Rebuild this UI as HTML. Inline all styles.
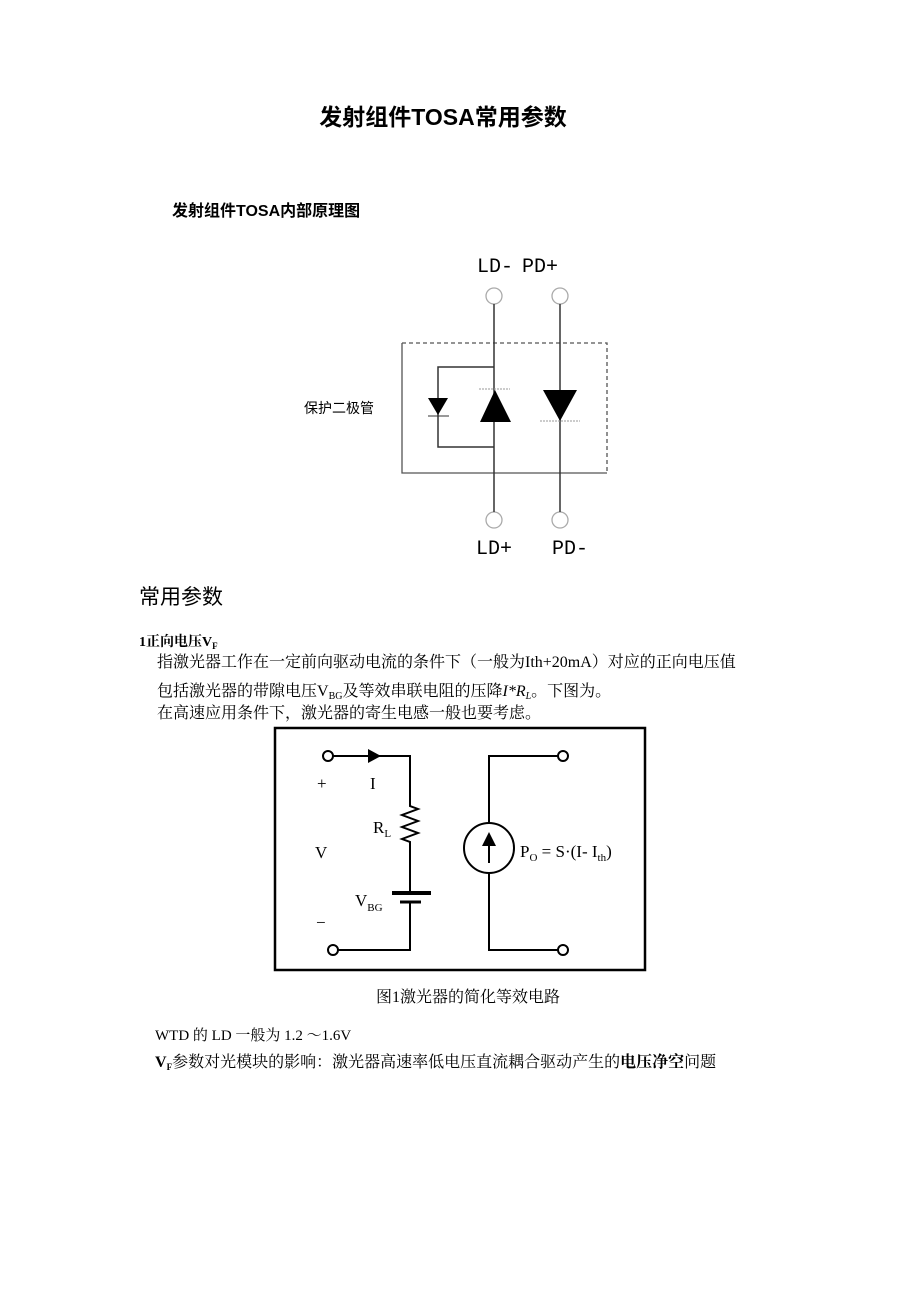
<!DOCTYPE html>
<html><head><meta charset="utf-8"><style>
html,body{margin:0;padding:0;background:#fff;}
svg{display:block;}
text{font-family:"Liberation Sans","Noto Sans CJK SC",sans-serif;fill:#000;}
.s{font-family:"Liberation Serif","Noto Serif CJK SC","Noto Sans CJK SC",serif;}
.m{font-family:"Liberation Mono","Noto Sans CJK SC",monospace;}
</style></head><body>
<svg width="920" height="1302" viewBox="0 0 920 1302" xmlns="http://www.w3.org/2000/svg">
<text x="443" y="125" font-size="23" font-weight="bold" text-anchor="middle">发射组件TOSA常用参数</text>
<text x="172" y="216" font-size="16" font-weight="bold">发射组件TOSA内部原理图</text>

<!-- TOSA diagram -->
<text x="477" y="272" font-size="20" class="m">LD-</text>
<text x="522" y="272" font-size="20" class="m">PD+</text>
<text x="476" y="554" font-size="20" class="m">LD+</text>
<text x="552" y="554" font-size="20" class="m">PD-</text>
<g stroke="#aaa" fill="none" stroke-width="1.3">
<circle cx="494" cy="296" r="8"/><circle cx="560" cy="296" r="8"/>
<circle cx="494" cy="520" r="8"/><circle cx="560" cy="520" r="8"/>
</g>
<g stroke="#555" fill="none" stroke-width="1.3">
<path d="M402 343 H607 V473" stroke-dasharray="4 3"/>
<path d="M402 343 V473 H607"/>
</g>
<g stroke="#333" stroke-width="1.5" fill="none">
<line x1="494" y1="304" x2="494" y2="512"/>
<line x1="560" y1="304" x2="560" y2="512"/>
<path d="M494 367 H438 V447 H494"/>
<line x1="428" y1="416" x2="449" y2="416" stroke-width="1"/>
</g>
<g fill="#000">
<polygon points="428,398 448,398 438,415"/>
<polygon points="480,422 511,422 495,390"/>
<polygon points="543,390 577,390 560,421"/>
</g>
<line x1="479" y1="389" x2="510" y2="389" stroke="#999" stroke-width="1" stroke-dasharray="2 1"/>
<line x1="540" y1="421" x2="580" y2="421" stroke="#999" stroke-width="1" stroke-dasharray="2 1"/>
<text x="304" y="413" font-size="14">保护二极管</text>

<text x="139" y="604" font-size="21">常用参数</text>
<text x="139" y="646" font-size="14" font-weight="bold" class="s">1正向电压V<tspan font-size="9" dy="3">F</tspan></text>
<text x="157" y="667" font-size="16" class="s">指激光器工作在一定前向驱动电流的条件下（一般为Ith+20mA）对应的正向电压值</text>
<text x="157" y="696" font-size="16" class="s">包括激光器的带隙电压V<tspan font-size="10" dy="3">BG</tspan><tspan dy="-3">及等效串联电阻的压降</tspan><tspan font-style="italic">I*R</tspan><tspan font-style="italic" font-size="10" dy="3">L</tspan><tspan dy="-3">。下图为。</tspan></text>
<text x="157" y="718" font-size="16" class="s">在高速应用条件下，激光器的寄生电感一般也要考虑。</text>

<!-- circuit -->
<rect x="275" y="728" width="370" height="242" fill="#fff" stroke="#000" stroke-width="2.5"/>
<g stroke="#000" stroke-width="2" fill="none">
<path d="M333 756 H410 V806 l8 3 -16 6 16 6 -16 6 16 6 -16 6 8 3 V893"/>
<path d="M410 902 V950 H338"/>
<line x1="392" y1="893" x2="431" y2="893" stroke-width="4"/>
<line x1="400" y1="902" x2="421" y2="902" stroke-width="3"/>
<circle cx="328" cy="756" r="5" fill="#fff"/>
<circle cx="333" cy="950" r="5" fill="#fff"/>
<path d="M558 756 H489 V823 M489 873 V950 H558"/>
<circle cx="563" cy="756" r="5" fill="#fff"/>
<circle cx="563" cy="950" r="5" fill="#fff"/>
<circle cx="489" cy="848" r="25"/>
<line x1="489" y1="863" x2="489" y2="843"/>
</g>
<polygon points="368,749 368,763 381,756" fill="#000"/>
<polygon points="482,846 496,846 489,832" fill="#000"/>
<g font-size="17">
<text x="317" y="789" fill="#555" class="s">+</text>
<text x="370" y="789" class="s">I</text>
<text x="373" y="833" class="s">R<tspan font-size="11" dy="4">L</tspan></text>
<text x="315" y="858" class="s">V</text>
<text x="355" y="906" class="s">V<tspan font-size="11" dy="5">BG</tspan></text>
<text x="316" y="928" class="s">−</text>
<text x="520" y="857" class="s">P<tspan font-size="11" dy="4">O</tspan><tspan dy="-4"> = S·(I- I</tspan><tspan font-size="11" dy="4">th</tspan><tspan dy="-4">)</tspan></text>
</g>
<text x="468" y="1002" font-size="16" text-anchor="middle" class="s">图1激光器的简化等效电路</text>
<text x="155" y="1040" font-size="15" class="s">WTD 的  LD 一般为  1.2 ～1.6V</text>
<text x="155" y="1067" font-size="16" class="s"><tspan font-weight="bold">V</tspan><tspan font-size="9" dy="3" font-weight="bold">F</tspan><tspan dy="-3">参数对光模块的影响：激光器高速率低电压直流耦合驱动产生的</tspan><tspan font-weight="bold">电压净空</tspan>问题</text>
</svg>
</body></html>
